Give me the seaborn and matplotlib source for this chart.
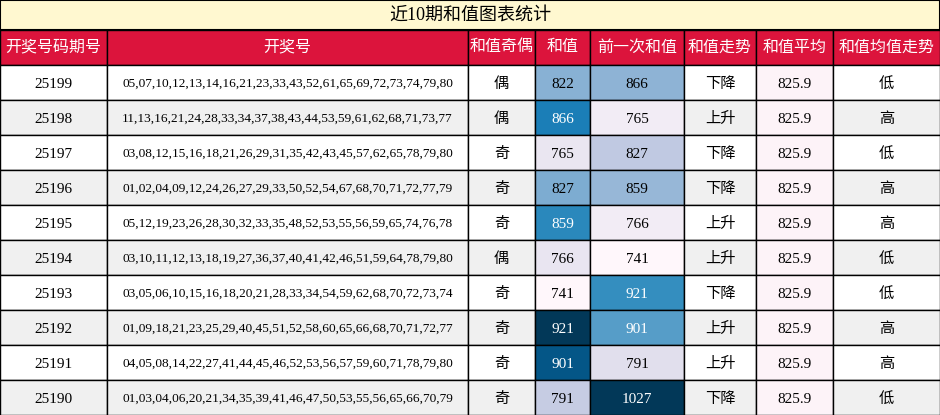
import matplotlib
matplotlib.use("Agg")
import matplotlib.pyplot as plt
from matplotlib.patches import Rectangle
from matplotlib.colors import Normalize
import seaborn as sns

plt.rcParams["font.family"] = ["Liberation Serif", "Noto Sans CJK SC"]

title = "近10期和值图表统计"
headers = ["开奖号码期号", "开奖号", "和值奇偶", "和值", "前一次和值", "和值走势", "和值平均", "和值均值走势"]
periods = ["25199", "25198", "25197", "25196", "25195", "25194", "25193", "25192", "25191", "25190"]
numbers = [
    "05,07,10,12,13,14,16,21,23,33,43,52,61,65,69,72,73,74,79,80",
    "11,13,16,21,24,28,33,34,37,38,43,44,53,59,61,62,68,71,73,77",
    "03,08,12,15,16,18,21,26,29,31,35,42,43,45,57,62,65,78,79,80",
    "01,02,04,09,12,24,26,27,29,33,50,52,54,67,68,70,71,72,77,79",
    "05,12,19,23,26,28,30,32,33,35,48,52,53,55,56,59,65,74,76,78",
    "03,10,11,12,13,18,19,27,36,37,40,41,42,46,51,59,64,78,79,80",
    "03,05,06,10,15,16,18,20,21,28,33,34,54,59,62,68,70,72,73,74",
    "01,09,18,21,23,25,29,40,45,51,52,58,60,65,66,68,70,71,72,77",
    "04,05,08,14,22,27,41,44,45,46,52,53,56,57,59,60,71,78,79,80",
    "01,03,04,06,20,21,34,35,39,41,46,47,50,53,55,56,65,66,70,79",
]
parity = ["偶", "偶", "奇", "奇", "奇", "偶", "奇", "奇", "奇", "奇"]
sums = [822, 866, 765, 827, 859, 766, 741, 921, 901, 791]
prev_sums = [866, 765, 827, 859, 766, 741, 921, 901, 791, 1027]
trend = ["下降", "上升", "下降", "下降", "上升", "上升", "下降", "上升", "上升", "下降"]
avg = [825.9] * 10
avg_trend = ["低", "高", "低", "高", "高", "低", "低", "高", "高", "低"]

W, H = 940, 415
fig = plt.figure(figsize=(W / 100, H / 100), dpi=100)
ax = fig.add_axes([0, 0, 1, 1])
ax.set_xlim(0, W)
ax.set_ylim(H, 0)
ax.axis("off")

cols = [0, 107, 468, 535, 590, 684, 756, 833, 940]
title_h, head_h, row_h = 30, 35, 35
cmap = sns.color_palette("PuBu", as_cmap=True)

def lum(c):
    return 0.299 * c[0] + 0.587 * c[1] + 0.114 * c[2]

ax.add_patch(Rectangle((0, 0), W, title_h, facecolor="#fff8d0", edgecolor="black", lw=1.5))
ax.text(W / 2, title_h / 2, title, ha="center", va="center", fontsize=13)

for j, h in enumerate(headers):
    x0, x1 = cols[j], cols[j + 1]
    ax.add_patch(Rectangle((x0, title_h), x1 - x0, head_h, facecolor="#dc143c", edgecolor="black", lw=1))
    ax.text((x0 + x1) / 2, title_h + head_h / 2, h, ha="center", va="center", fontsize=11.5, color="white")

ns = Normalize(min(sums), max(sums))
npv = Normalize(min(prev_sums), max(prev_sums))
for i in range(len(periods)):
    y0 = title_h + head_h + i * row_h
    base = "#ffffff" if i % 2 == 0 else "#f0f0f0"
    vals = [periods[i], numbers[i], parity[i], str(sums[i]), str(prev_sums[i]), trend[i], f"{avg[i]:.1f}", avg_trend[i]]
    for j, v in enumerate(vals):
        x0, x1 = cols[j], cols[j + 1]
        fc, tc = base, "black"
        if j == 3:
            fc = cmap(ns(sums[i])); tc = "white" if lum(fc) < 0.6 else "black"
        elif j == 4:
            fc = cmap(npv(prev_sums[i])); tc = "white" if lum(fc) < 0.6 else "black"
        elif j == 6:
            fc = "#fdf3f8"
        ax.add_patch(Rectangle((x0, y0), x1 - x0, row_h, facecolor=fc, edgecolor="black", lw=1))
        ax.text((x0 + x1) / 2, y0 + row_h / 2 + 1.5, v, ha="center", va="center",
                fontsize=9.6 if j == 1 else 11, color=tc)

fig.savefig("out.png", dpi=100)
